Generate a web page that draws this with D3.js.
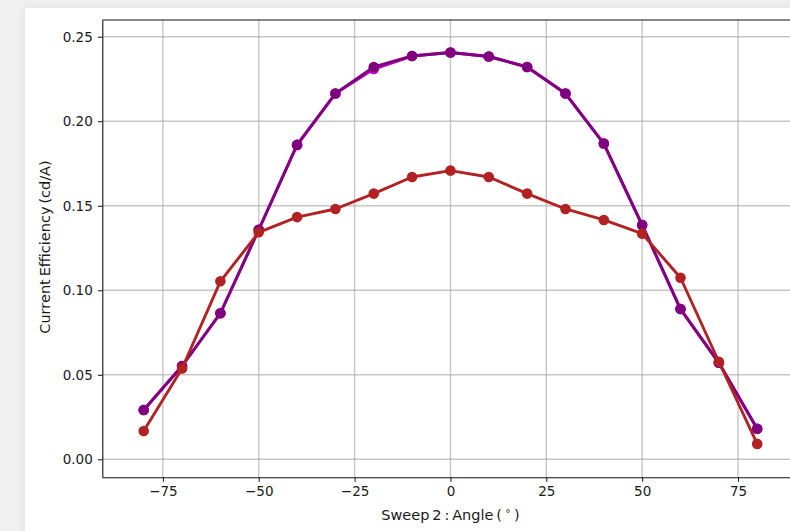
<!DOCTYPE html>
<html>
<head>
<meta charset="utf-8">
<script src="https://cdn.jsdelivr.net/npm/d3@7"></script>
<style>
    html, body { margin: 0; padding: 0; }
    body {
        width: 790px;
        height: 531px;
        overflow: hidden;
        background: #f0f0f0;
        font-family: 'DejaVu Sans', sans-serif;
    }
    .card {
        position: absolute;
        left: 25px;
        top: 8px;
        width: 800px;
        height: 540px;
        background: white;
        box-shadow: 0 0 10px rgba(0, 0, 0, 0.07);
    }
    svg { position: absolute; left: 0; top: 0; }
    .tick text { font-family: 'DejaVu Sans', sans-serif; font-size: 13.5px; fill: #1a1a1a; }
</style>
</head>
<body>
<div class="card"></div>
<script>
const angles = [-80, -70, -60, -50, -40, -30, -20, -10, 0, 10, 20, 30, 40, 50, 60, 70, 80];

const forwardValues = [0.0292, 0.0552, 0.0864, 0.1358, 0.1860, 0.2164, 0.2309, 0.2386, 0.2407, 0.2383, 0.2321, 0.2164, 0.1868, 0.1386, 0.0889, 0.0571, 0.0181];
const purpleValues = [0.0292, 0.0552, 0.0864, 0.1358, 0.1860, 0.2164, 0.2321, 0.2386, 0.2407, 0.2383, 0.2321, 0.2164, 0.1868, 0.1386, 0.0889, 0.0571, 0.0181];
const redValues = [0.0167, 0.0537, 0.1053, 0.1343, 0.1433, 0.1481, 0.1572, 0.1670, 0.1708, 0.1670, 0.1572, 0.1481, 0.1416, 0.1335, 0.1074, 0.0577, 0.0091];

const xTicks = [-75, -50, -25, 0, 25, 50, 75];
const yTicks = [0.00, 0.05, 0.10, 0.15, 0.20, 0.25];

const series = [
    { values: forwardValues, color: '#c000c0' },
    { values: purpleValues, color: '#800080' },
    { values: redValues, color: '#b22222' }
];

const width = 790;
const height = 531;

const svg = d3.select('body')
    .append('svg')
    .attr('width', width)
    .attr('height', height);

const xScale = d3.scaleLinear()
    .domain([-90.8, 90.8])
    .range([102.3, 798.6]);

const yScale = d3.scaleLinear()
    .domain([-0.01065, 0.2599])
    .range([477.3, 20]);

const fmtMinus = s => s.replace('-', '\u2212');

// grid
svg.append('g')
    .selectAll('line')
    .data(xTicks)
    .enter()
    .append('line')
    .attr('x1', d => xScale(d))
    .attr('x2', d => xScale(d))
    .attr('y1', 20)
    .attr('y2', 477.3)
    .attr('stroke', '#a8a8a8')
    .attr('stroke-opacity', 0.65)
    .attr('stroke-width', 1.4);

svg.append('g')
    .selectAll('line')
    .data(yTicks)
    .enter()
    .append('line')
    .attr('x1', 102.3)
    .attr('x2', 798.6)
    .attr('y1', d => yScale(d))
    .attr('y2', d => yScale(d))
    .attr('stroke', '#a8a8a8')
    .attr('stroke-opacity', 0.65)
    .attr('stroke-width', 1.4);

// axes
const xAxis = d3.axisBottom(xScale)
    .tickValues(xTicks)
    .tickSize(4.5)
    .tickPadding(5)
    .tickSizeOuter(0)
    .tickFormat(d => fmtMinus(String(d)));

const yAxis = d3.axisLeft(yScale)
    .tickValues(yTicks)
    .tickSize(4.5)
    .tickPadding(5)
    .tickSizeOuter(0)
    .tickFormat(d => d3.format('.2f')(d));

svg.append('g')
    .attr('transform', 'translate(0, 477.3)')
    .call(xAxis)
    .call(g => g.select('.domain').attr('stroke', '#111').attr('stroke-width', 1.1))
    .call(g => g.selectAll('.tick line').attr('stroke', '#111'));

svg.append('g')
    .attr('transform', 'translate(102.3, 0)')
    .call(yAxis)
    .call(g => g.select('.domain').attr('stroke', '#111').attr('stroke-width', 1.1))
    .call(g => g.selectAll('.tick line').attr('stroke', '#111'));

svg.append('line')
    .attr('x1', 102.3)
    .attr('x2', 798.6)
    .attr('y1', 20)
    .attr('y2', 20)
    .attr('stroke', '#111')
    .attr('stroke-width', 1.1);

// lines and markers
const line = d3.line()
    .x((d, i) => xScale(angles[i]))
    .y(d => yScale(d));

series.forEach(s => {
    svg.append('path')
        .datum(s.values)
        .attr('d', line)
        .attr('fill', 'none')
        .attr('stroke', s.color)
        .attr('stroke-width', 2.9)
        .attr('stroke-linejoin', 'round');

    svg.append('g')
        .selectAll('circle')
        .data(s.values)
        .enter()
        .append('circle')
        .attr('cx', (d, i) => xScale(angles[i]))
        .attr('cy', d => yScale(d))
        .attr('r', 5.3)
        .attr('fill', s.color);
});

// labels
const xLabel = svg.append('text')
    .attr('x', 450.5)
    .attr('y', 519.5)
    .attr('text-anchor', 'middle')
    .attr('font-size', 14.5)
    .attr('fill', '#1a1a1a')
    .attr('font-family', 'DejaVu Sans, sans-serif');
xLabel.append('tspan').text('Sweep\u20092\u2009:\u2009Angle\u2009(\u2009');
xLabel.append('tspan').attr('font-size', 10).attr('dy', -5.5).text('\u2218');
xLabel.append('tspan').attr('dy', 5.5).text('\u2009)');

svg.append('text')
    .attr('transform', 'translate(50, 247) rotate(-90)')
    .attr('text-anchor', 'middle')
    .attr('font-size', 14.5)
    .attr('fill', '#1a1a1a')
    .attr('font-family', 'DejaVu Sans, sans-serif')
    .text('Current\u2009Efficiency\u2009(cd/A)');
</script>
</body>
</html>
